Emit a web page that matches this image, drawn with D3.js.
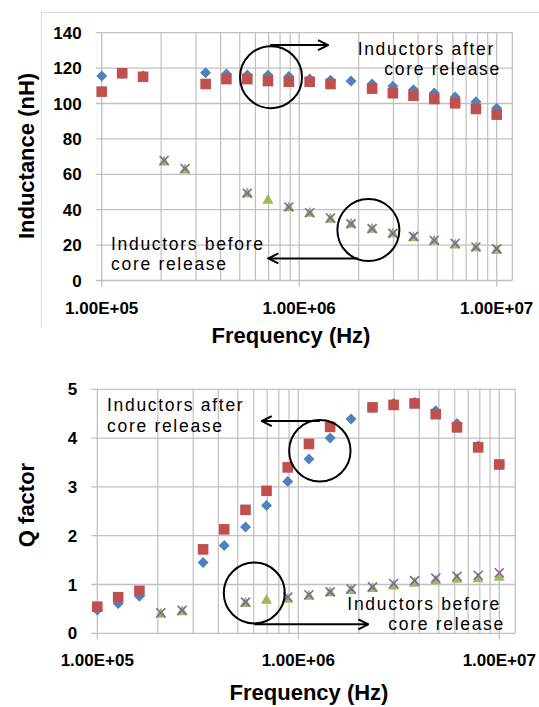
<!DOCTYPE html>
<html>
<head>
<meta charset="utf-8">
<script src="https://cdn.jsdelivr.net/npm/d3@7"></script>
<style>
  body { margin: 0; background: #fff; }
  text { font-family: "Liberation Sans", Arial, sans-serif; fill: #000; }
</style>
</head>
<body>
<div id="chart"></div>
<script>
// frequency sweep points (Hz), 20-point log sweep 100 kHz .. 10 MHz
const freq = [1.00e5, 1.27e5, 1.62e5, 2.07e5, 2.64e5, 3.36e5, 4.28e5, 5.46e5, 6.95e5, 8.86e5,
              1.13e6, 1.44e6, 1.83e6, 2.34e6, 2.98e6, 3.79e6, 4.83e6, 6.16e6, 7.85e6, 1.00e7];
const xMax = 1.2e7;
const xMajor = [1e5, 1e6, 1e7];
const xMajorLabels = ["1.00E+05", "1.00E+06", "1.00E+07"];

// inductance (nH)
const indAfter1 = [115.5, 117.0, 115.7, null, null, 117.4, 116.7, 116.1, 116.0, 115.2,
                   113.8, 113.1, 112.7, 111.0, 109.7, 107.8, 105.9, 103.7, 101.0, 97.3];
const indAfter2 = [106.7, 117.1, 115.1, null, null, 111.0, 113.8, 113.8, 112.7, 112.3,
                   112.3, 111.0, null, 108.4, 105.8, 104.4, 102.5, 100.1, 96.9, 93.7];
const indBefore1 = [null, null, null, 67.5, 63.0, null, null, 49.6, 45.9, 41.7,
                    38.5, 35.1, 32.3, 29.5, 27.0, 24.7, 22.9, 20.6, 19.1, 17.6];
const indBefore2 = [null, null, null, 67.8, 63.3, null, null, 49.3, null, 41.5,
                    38.3, 35.3, 32.0, 29.3, 26.6, 24.9, 22.6, 20.9, 18.9, 17.9];
const indTicks = [0, 20, 40, 60, 80, 100, 120, 140];

// Q factor
const qAfter1 = [0.48, 0.61, 0.76, null, null, 1.45, 1.80, 2.18, 2.62, 3.11,
                 3.57, 4.00, 4.39, 4.62, 4.71, 4.73, 4.56, 4.30, 3.84, 3.46];
const qAfter2 = [0.545, 0.74, 0.87, null, null, 1.72, 2.13, 2.53, 2.92, 3.40,
                 3.88, 4.23, null, 4.63, 4.68, 4.71, 4.49, 4.22, 3.81, 3.46];
const qBefore1 = [null, null, null, 0.41, 0.46, null, null, 0.63, 0.70, 0.72,
                  0.78, 0.85, 0.90, 0.94, 0.99, 1.045, 1.09, 1.13, 1.14, 1.17];
const qBefore2 = [null, null, null, 0.42, 0.47, null, null, 0.64, null, 0.74,
                  0.79, 0.85, 0.91, 0.95, 1.02, 1.08, 1.13, 1.17, 1.19, 1.24];
const qTicks = [0, 1, 2, 3, 4, 5];

const colors = { blue: "#4F81BD", red: "#C0504D", green: "#9BBB59", purple: "#8064A2" };
const gridColor = "#c0c0c0";

const svg = d3.select("#chart").append("svg")
  .attr("width", 539)
  .attr("height", 707);

svg.append("rect").attr("width", 539).attr("height", 707).attr("fill", "#fff");

// light frame around the upper chart
svg.append("path")
  .attr("d", "M41.5,328V12.5H539")
  .attr("fill", "none")
  .attr("stroke", "#dcdcdc")
  .attr("stroke-width", 1);

// marker shapes
function marker(g, kind, color) {
  if (kind === "diamond") {
    g.append("path").attr("d", "M0,-5.5L5.5,0L0,5.5L-5.5,0Z").attr("fill", color);
  } else if (kind === "square") {
    g.append("rect").attr("x", -5.3).attr("y", -5.3).attr("width", 10.6).attr("height", 10.6).attr("fill", color);
  } else if (kind === "triangle") {
    g.append("path").attr("d", "M0,-5.5L5.5,4.5L-5.5,4.5Z").attr("fill", color);
  } else {
    g.append("path").attr("d", "M-4.5,-4.5L4.5,4.5M-4.5,4.5L4.5,-4.5")
      .attr("stroke", color).attr("stroke-width", 1.6).attr("fill", "none");
  }
}

function drawChart(cfg) {
  const x = d3.scaleLog().domain([1e5, 1e7]).range(cfg.xRange);
  const y = d3.scaleLinear().domain(cfg.yDomain).range(cfg.yRange);
  const left = x(1e5), right = x(xMax), top = y(cfg.yDomain[1]), bottom = y(0);
  const g = svg.append("g");

  // vertical gridlines (minor + major)
  const minor = [];
  [1e5, 1e6].forEach(d => { for (let m = 2; m <= 9; m++) minor.push(d * m); });
  g.selectAll(".vminor").data(minor).join("line")
    .attr("x1", d => x(d)).attr("x2", d => x(d))
    .attr("y1", top).attr("y2", bottom)
    .attr("stroke", gridColor).attr("stroke-width", 1.2);
  g.selectAll(".vmajor").data(xMajor).join("line")
    .attr("x1", d => x(d)).attr("x2", d => x(d))
    .attr("y1", top).attr("y2", bottom + 6)
    .attr("stroke", gridColor).attr("stroke-width", 1.3);
  g.append("line")
    .attr("x1", right).attr("x2", right).attr("y1", top).attr("y2", bottom)
    .attr("stroke", gridColor).attr("stroke-width", 1.3);

  // horizontal gridlines with tick stubs
  g.selectAll(".hgrid").data(cfg.yTicks).join("line")
    .attr("x1", left - 6).attr("x2", right)
    .attr("y1", d => y(d)).attr("y2", d => y(d))
    .attr("stroke", gridColor).attr("stroke-width", 1.3);

  // tick labels
  g.selectAll(".ylab").data(cfg.yTicks).join("text")
    .attr("x", left - 20).attr("y", d => y(d)).attr("dy", "0.36em")
    .attr("text-anchor", "end")
    .attr("font-size", 17).attr("font-weight", "bold")
    .text(d => d);
  g.selectAll(".xlab").data(xMajor).join("text")
    .attr("x", d => x(d)).attr("y", bottom + 33)
    .attr("text-anchor", "middle")
    .attr("font-size", 17).attr("font-weight", "bold")
    .text((d, i) => xMajorLabels[i]);

  // axis titles
  g.append("text")
    .attr("x", cfg.xTitle[0]).attr("y", cfg.xTitle[1])
    .attr("text-anchor", "middle")
    .attr("font-size", 22).attr("font-weight", "bold")
    .text("Frequency (Hz)");
  g.append("text")
    .attr("transform", `translate(${cfg.yTitle[0]},${cfg.yTitle[1]}) rotate(-90)`)
    .attr("text-anchor", "middle")
    .attr("font-size", 22).attr("font-weight", "bold")
    .text(cfg.yLabel);

  // series, drawn in Excel order
  cfg.series.forEach(s => {
    const pts = freq.map((f, i) => ({ f: f, v: s.values[i] })).filter(d => d.v != null);
    g.append("g").selectAll("g").data(pts).join("g")
      .attr("transform", d => `translate(${x(d.f)},${y(d.v)})`)
      .each(function () { marker(d3.select(this), s.kind, s.color); });
  });

  // annotations: circles + arrows
  const defsId = "arrow" + cfg.id;
  svg.append("defs").append("marker")
    .attr("id", defsId)
    .attr("viewBox", "0 0 12 12").attr("refX", 11).attr("refY", 6)
    .attr("markerWidth", 12).attr("markerHeight", 12)
    .attr("markerUnits", "userSpaceOnUse")
    .attr("orient", "auto")
    .append("path").attr("d", "M1,1L11,6L1,11")
    .attr("fill", "none").attr("stroke", "#000").attr("stroke-width", 2);

  cfg.circles.forEach(c => {
    g.append("circle")
      .attr("cx", x(c.f)).attr("cy", y(c.v)).attr("r", c.r)
      .attr("fill", "none").attr("stroke", "#000").attr("stroke-width", 2);
  });
  cfg.arrows.forEach(a => {
    g.append("line")
      .attr("x1", x(a.f0)).attr("x2", x(a.f1))
      .attr("y1", y(a.v)).attr("y2", y(a.v))
      .attr("stroke", "#000").attr("stroke-width", 2)
      .attr("marker-end", `url(#${defsId})`);
  });

  // two-line notes (slightly smaller font, letter-spaced to keep the width)
  cfg.notes.forEach(n => {
    const t = g.append("text")
      .attr("text-anchor", n.anchor)
      .attr("font-size", 17.5)
      .attr("letter-spacing", 1.7);
    n.lines.forEach(l => {
      t.append("tspan").attr("x", l.x).attr("y", l.y).text(l.text);
    });
  });
}

drawChart({
  id: 1,
  xRange: [101.7, 496.7],
  yDomain: [0, 140],
  yRange: [280.5, 32.7],
  yTicks: indTicks,
  yLabel: "Inductance (nH)",
  xTitle: [291, 343],
  yTitle: [34, 156],
  series: [
    { values: indAfter1, kind: "diamond", color: colors.blue },
    { values: indAfter2, kind: "square", color: colors.red },
    { values: indBefore1, kind: "triangle", color: colors.green },
    { values: indBefore2, kind: "x", color: colors.purple }
  ],
  circles: [
    { f: 7.2e5, v: 114.9, r: 31 },
    { f: 2.24e6, v: 28.5, r: 31 }
  ],
  arrows: [
    { f0: 7.13e5, f1: 1.40e6, v: 133 },
    { f0: 1.99e6, f1: 6.98e5, v: 12.5 }
  ],
  notes: [
    { anchor: "end", lines: [
      { text: "Inductors after", x: 495, y: 54.5 },
      { text: "core release", x: 501, y: 75 } ] },
    { anchor: "start", lines: [
      { text: "Inductors before", x: 111, y: 249.5 },
      { text: "core release", x: 111, y: 270 } ] }
  ]
});

drawChart({
  id: 2,
  xRange: [97.3, 499.3],
  yDomain: [0, 5],
  yRange: [633.3, 389.3],
  yTicks: qTicks,
  yLabel: "Q factor",
  xTitle: [309, 700],
  yTitle: [34, 505],
  series: [
    { values: qAfter1, kind: "diamond", color: colors.blue },
    { values: qAfter2, kind: "square", color: colors.red },
    { values: qBefore1, kind: "triangle", color: colors.green },
    { values: qBefore2, kind: "x", color: colors.purple }
  ],
  circles: [
    { f: 1.28e6, v: 3.74, r: 30.7 },
    { f: 6.04e5, v: 0.826, r: 30.5 }
  ],
  arrows: [
    { f0: 1.28e6, f1: 6.58e5, v: 4.35 },
    { f0: 6.04e5, f1: 2.23e6, v: 0.184 }
  ],
  notes: [
    { anchor: "start", lines: [
      { text: "Inductors after", x: 107, y: 411 },
      { text: "core release", x: 107, y: 431.5 } ] },
    { anchor: "end", lines: [
      { text: "Inductors before", x: 501, y: 609.5 },
      { text: "core release", x: 505, y: 630 } ] }
  ]
});
</script>
</body>
</html>
